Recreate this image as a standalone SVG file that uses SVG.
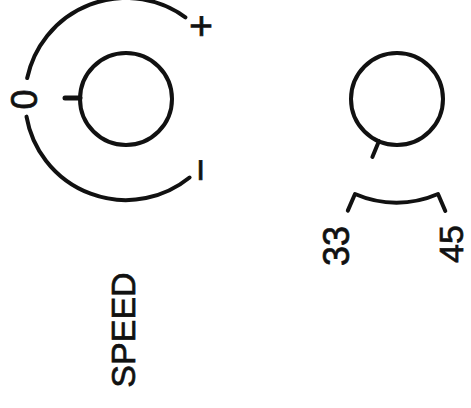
<svg xmlns="http://www.w3.org/2000/svg" width="471" height="408" viewBox="0 0 471 408">
<style>
.ln{fill:none;stroke:#111;stroke-width:4;stroke-linecap:round;stroke-linejoin:round}
.tk{fill:none;stroke:#111;stroke-width:5;stroke-linecap:round}
.tx{font-family:"Liberation Sans",Arial,sans-serif;fill:#111;stroke:#111;stroke-width:0.7;text-anchor:middle}
</style>
<rect width="471" height="408" fill="#fff"/>
<g id="speed-dial">
<path class="ln" d="M27.2,78 A101,101 0 0 1 185.4,17.3"/>
<path class="ln" d="M26.5,116.6 A101,101 0 0 0 189.6,177.5"/>
</g>
<g id="speed-knob">
<circle class="ln" cx="126" cy="99" r="46"/>
<line class="tk" x1="65" y1="98" x2="80" y2="98"/>
</g>
<g id="label-0"><text class="tx" font-size="36" transform="translate(37,99.5) rotate(-90)">0</text></g>
<g id="label-plus"><text class="tx" font-size="40" transform="translate(215,26) rotate(-90)">+</text></g>
<g id="label-minus"><text class="tx" font-size="40" transform="translate(214,170) rotate(-90)">−</text></g>
<g id="label-speed"><text class="tx" font-size="34" transform="translate(135,330) rotate(-90)">SPEED</text></g>
<g id="rpm-knob">
<circle class="ln" cx="397" cy="99" r="46"/>
<line class="ln" x1="379" y1="141" x2="372.4" y2="157"/>
</g>
<g id="rpm-scale">
<path class="ln" d="M347.8,210.6 L355,194 A104,104 0 0 0 438,194 L445.3,211"/>
</g>
<g id="label-33"><text class="tx" font-size="36" transform="translate(349,246) rotate(-90)">33</text></g>
<g id="label-45"><text class="tx" font-size="34" transform="translate(463,244) rotate(-90)">45</text></g>
</svg>
